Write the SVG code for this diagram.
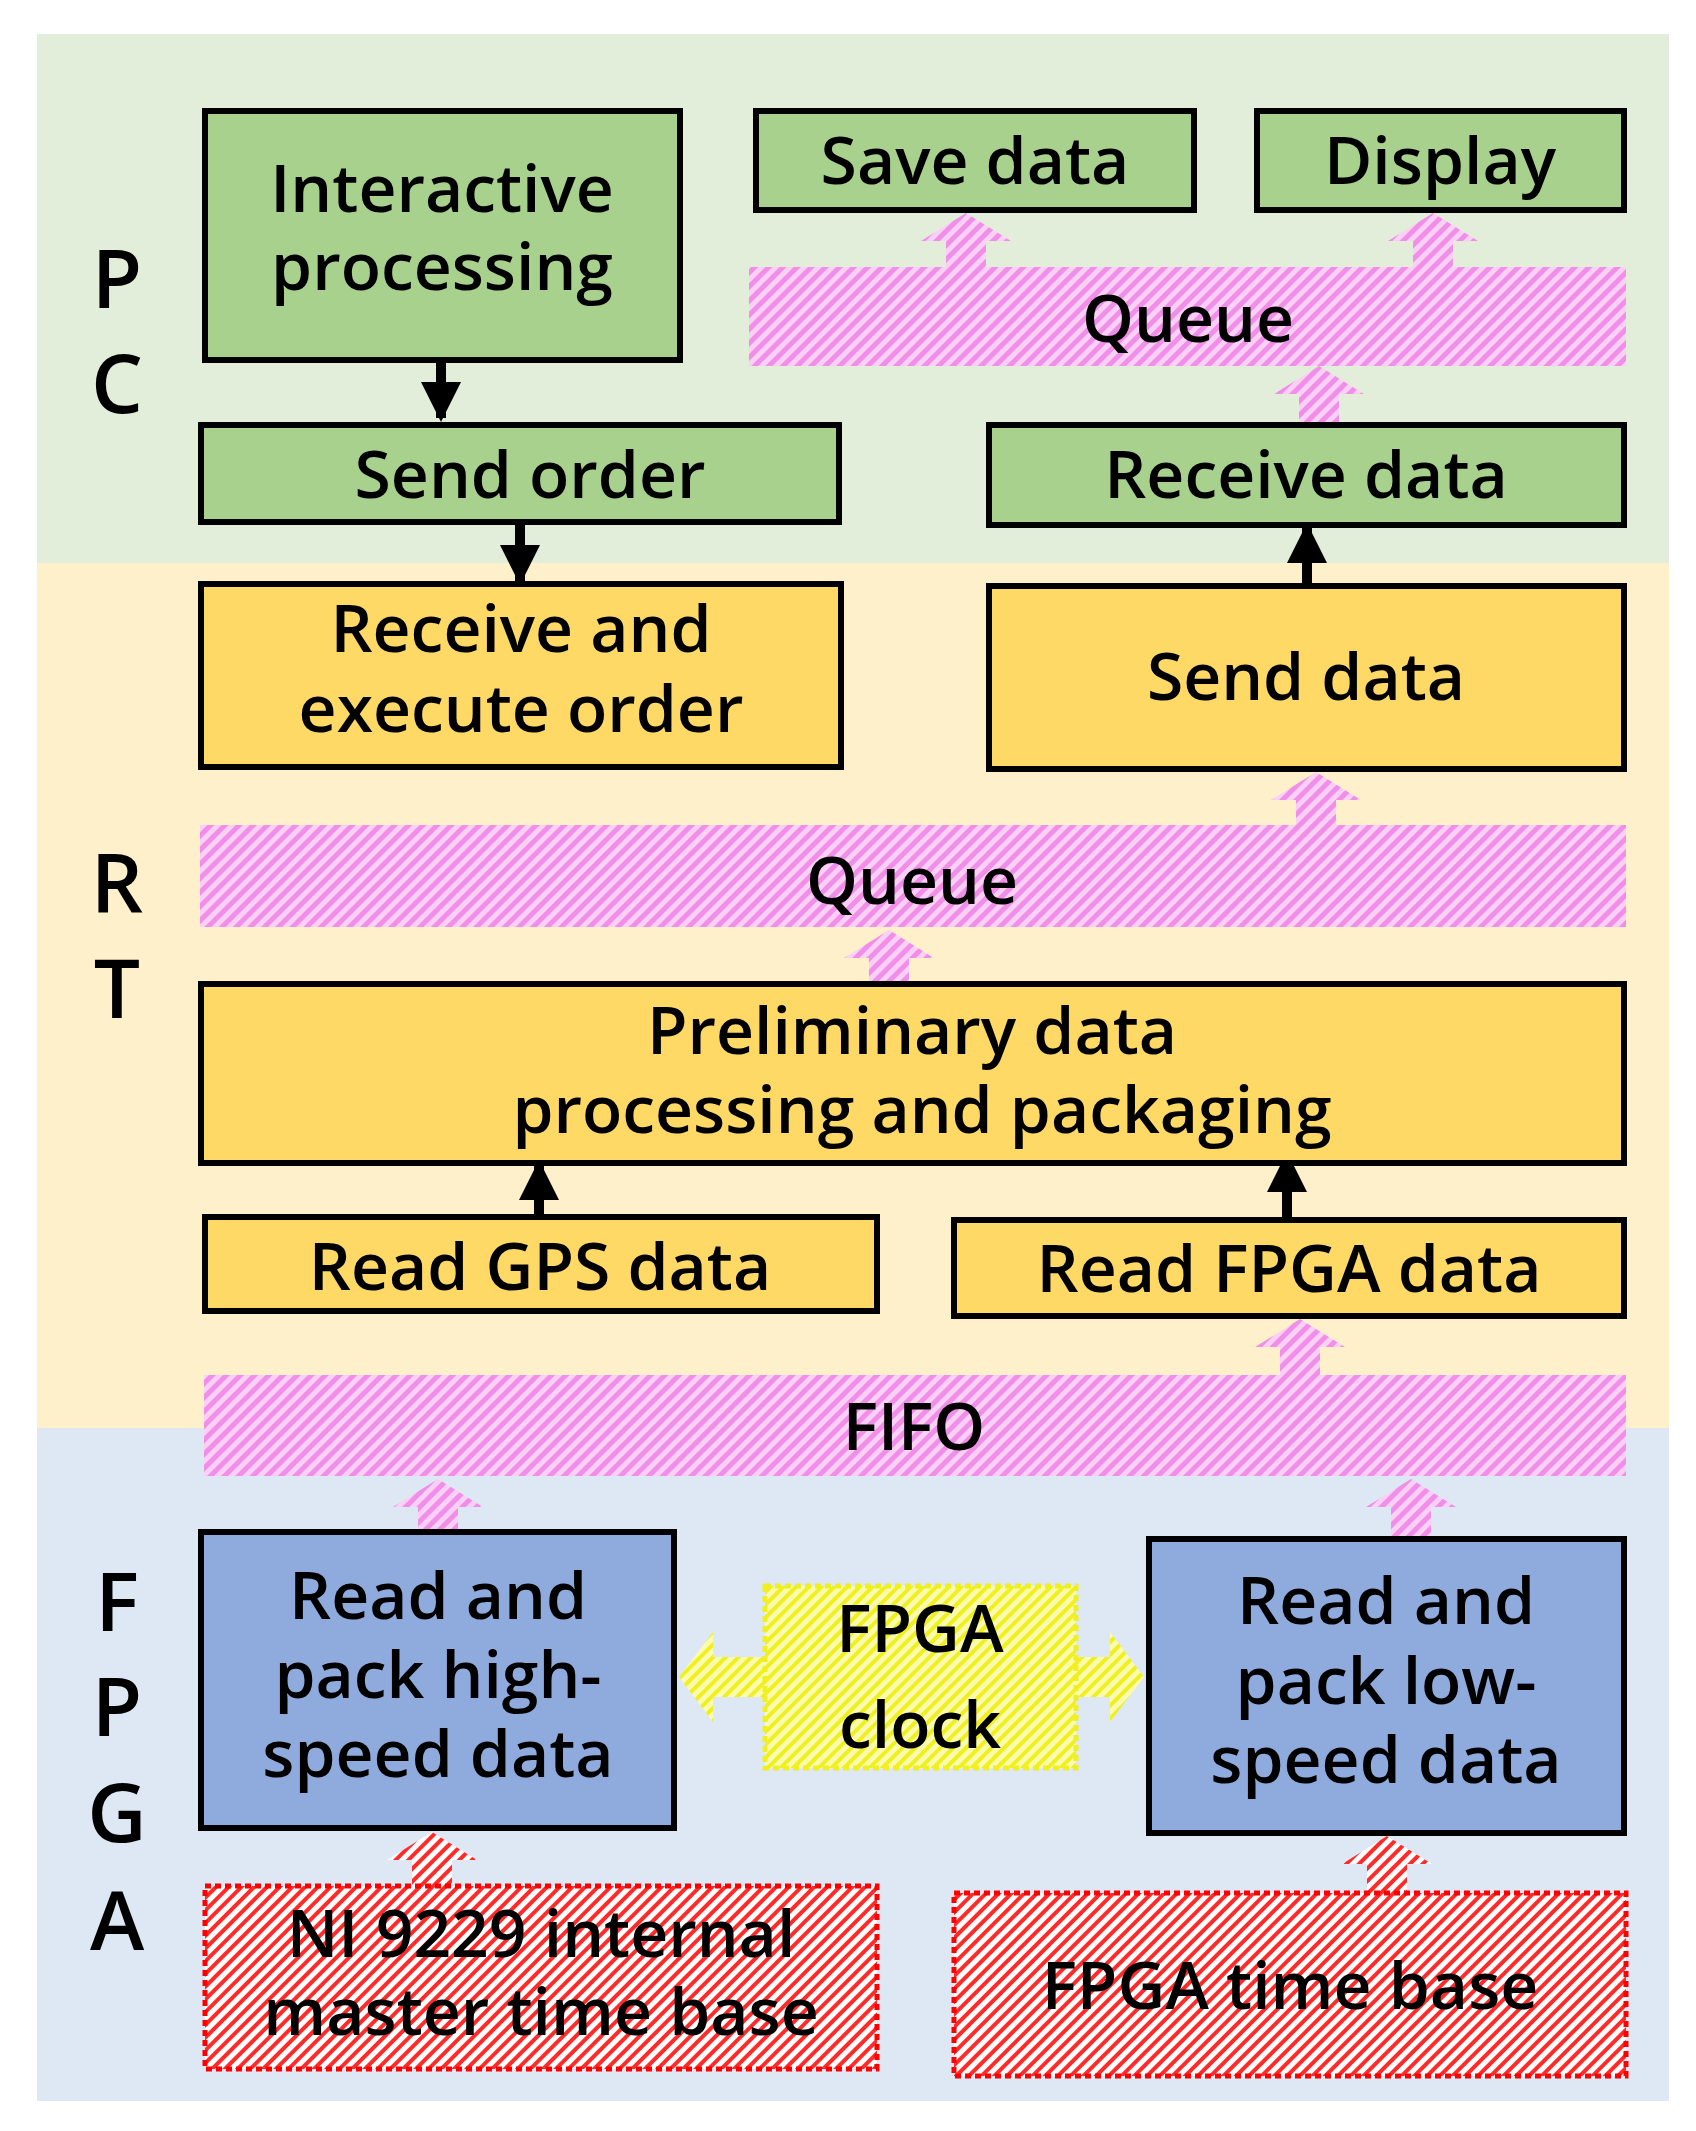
<svg xmlns="http://www.w3.org/2000/svg" width="1696" height="2131" viewBox="0 0 1696 2131">
<defs>
<pattern id="pk" width="10" height="10" patternUnits="userSpaceOnUse" patternTransform="rotate(45)"><rect width="10" height="10" fill="#fbd0f6"/><rect width="5" height="10" fill="#f08ee8"/></pattern>
<pattern id="rd" width="9" height="9" patternUnits="userSpaceOnUse" patternTransform="rotate(45)"><rect width="9" height="9" fill="#fff"/><rect width="4" height="9" fill="#ff2a2a"/></pattern>
<pattern id="yl" width="9" height="9" patternUnits="userSpaceOnUse" patternTransform="rotate(45)"><rect width="9" height="9" fill="#fbfbb0"/><rect width="4" height="9" fill="#f0f020"/></pattern>
<marker id="ah" viewBox="0 0 10 10" refX="9" refY="5" markerWidth="4" markerHeight="4" orient="auto"><path d="M0,0 L10,5 L0,10 Z" fill="#000"/></marker>
<style>
.t{font-family:"Open Sans","Noto Sans",sans-serif;font-weight:600;font-size:66px;fill:#000;text-anchor:middle}
.s{font-family:"Open Sans","Noto Sans",sans-serif;font-weight:600;font-size:82px;fill:#000;text-anchor:middle}
.g{fill:#a9d18e;stroke:#000;stroke-width:6}
.y{fill:#ffd966;stroke:#000;stroke-width:6}
.b{fill:#8faadc;stroke:#000;stroke-width:6}
.p{fill:url(#pk)}
.r{fill:url(#rd);stroke:#ff0000;stroke-width:5;stroke-dasharray:6 4}
.c{fill:url(#yl);stroke:#f0f020;stroke-width:5;stroke-dasharray:6 4}
.ln{stroke:#000;stroke-width:10;fill:none;marker-end:url(#ah)}
</style>
</defs>
<rect width="1696" height="2131" fill="#fff"/>
<rect x="37" y="34" width="1632" height="529" fill="#e2eed9"/>
<rect x="37" y="563" width="1632" height="865" fill="#fff0cc"/>
<rect x="37" y="1428" width="1632" height="673" fill="#dde8f4"/>
<g id="sidelabels">
<text class="s" x="117" y="308">P</text><text class="s" x="117" y="413">C</text>
<text class="s" x="117" y="912">R</text><text class="s" x="117" y="1018">T</text>
<text class="s" x="117" y="1631">F</text><text class="s" x="117" y="1736">P</text>
<text class="s" x="117" y="1842">G</text><text class="s" x="117" y="1950">A</text>
</g>
<g id="connectors">
<line class="ln" x1="441" y1="360" x2="441" y2="418"/>
<line class="ln" x1="520" y1="522" x2="520" y2="581"/>
<line class="ln" x1="1307" y1="586" x2="1307" y2="527"/>
<line class="ln" x1="539" y1="1217" x2="539" y2="1164"/>
<line class="ln" x1="1287" y1="1220" x2="1287" y2="1156"/>
<g class="p">
<path d="M946,267 V241 H921 L966,213 L1011,241 H986 V267 Z"/>
<path d="M1413,267 V241 H1388 L1433,213 L1478,241 H1453 V267 Z"/>
<path d="M1299,425 V394 H1274 L1319,366 L1364,394 H1339 V425 Z"/>
<path d="M1296,825 V800 H1271 L1316,772 L1361,800 H1336 V825 Z"/>
<path d="M869,984 V958 H844 L889,930 L934,958 H909 V984 Z"/>
<path d="M1280,1375 V1347 H1255 L1300,1319 L1345,1347 H1320 V1375 Z"/>
<path d="M418,1532 V1507 H393 L438,1479 L483,1507 H458 V1532 Z"/>
<path d="M1391,1539 V1507 H1366 L1411,1479 L1456,1507 H1431 V1539 Z"/>
</g>
<path fill="url(#rd)" d="M412,1886 V1860 H387 L432,1832 L477,1860 H452 V1886 Z"/>
<path fill="url(#rd)" d="M1367,1893 V1864 H1342 L1387,1836 L1432,1864 H1407 V1893 Z"/>
<path fill="url(#yl)" d="M765,1657 H713 V1632 L679,1677 L713,1722 V1697 H765 Z"/>
<path fill="url(#yl)" d="M1076,1657 H1110 V1632 L1144,1677 L1110,1722 V1697 H1076 Z"/>
</g>
<g id="n1"><rect class="g" x="205" y="111" width="475" height="249"/><text class="t" x="442" y="212">Interactive</text><text class="t" x="442" y="290">processing</text></g>
<g id="n2"><rect class="g" x="756" y="111" width="438" height="99"/><text class="t" x="975" y="184">Save data</text></g>
<g id="n3"><rect class="g" x="1257" y="111" width="367" height="99"/><text class="t" x="1440" y="184">Display</text></g>
<g id="n4"><rect class="p" x="749" y="267" width="877" height="99"/><text class="t" x="1188" y="342">Queue</text></g>
<g id="n5"><rect class="g" x="201" y="425" width="638" height="97"/><text class="t" x="530" y="498">Send order</text></g>
<g id="n6"><rect class="g" x="989" y="425" width="635" height="100"/><text class="t" x="1306" y="498">Receive data</text></g>
<g id="n7"><rect class="y" x="201" y="584" width="640" height="183"/><text class="t" x="521" y="652">Receive and</text><text class="t" x="521" y="732">execute order</text></g>
<g id="n8"><rect class="y" x="989" y="586" width="635" height="183"/><text class="t" x="1306" y="700">Send data</text></g>
<g id="n9"><rect class="p" x="200" y="825" width="1426" height="102"/><text class="t" x="912" y="904">Queue</text></g>
<g id="n10"><rect class="y" x="201" y="984" width="1423" height="179"/><text class="t" x="912" y="1054">Preliminary data</text><text class="t" x="922" y="1133">processing and packaging</text></g>
<g id="n11"><rect class="y" x="205" y="1217" width="672" height="94"/><text class="t" x="540" y="1290">Read GPS data</text></g>
<g id="n12"><rect class="y" x="954" y="1220" width="670" height="96"/><text class="t" x="1289" y="1292">Read FPGA data</text></g>
<g id="n13"><rect class="p" x="204" y="1375" width="1422" height="101"/><text class="t" x="914" y="1450">FIFO</text></g>
<g id="n14"><rect class="b" x="201" y="1532" width="473" height="296"/><text class="t" x="438" y="1619">Read and</text><text class="t" x="438" y="1698">pack high-</text><text class="t" x="438" y="1777">speed data</text></g>
<g id="n15"><rect class="c" x="765" y="1586" width="311" height="182"/><text class="t" x="920" y="1652">FPGA</text><text class="t" x="920" y="1748">clock</text></g>
<g id="n16"><rect class="b" x="1149" y="1539" width="475" height="294"/><text class="t" x="1386" y="1624">Read and</text><text class="t" x="1386" y="1704">pack low-</text><text class="t" x="1386" y="1783">speed data</text></g>
<g id="n17"><rect class="r" x="205" y="1886" width="672" height="183"/><text class="t" x="541" y="1957">NI 9229 internal</text><text class="t" x="541" y="2035">master time base</text></g>
<g id="n18"><rect class="r" x="954" y="1893" width="672" height="183"/><text class="t" x="1290" y="2009">FPGA time base</text></g>
</svg>
